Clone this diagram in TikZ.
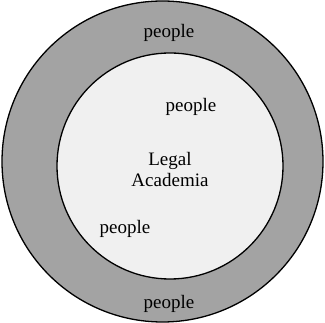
\documentclass[tikz,border=0pt]{standalone}
\usepackage{fontspec}
\setmainfont{Liberation Serif}
\begin{document}
\begin{tikzpicture}[x=1pt,y=-1pt,
  lbl/.style={font=\fontsize{19}{21}\selectfont, inner sep=0pt, align=center},
  ring/.style={draw=black, line width=1.3pt}]
\useasboundingbox (0,0) rectangle (325,323);
\fill[white] (0,0) rectangle (325,323);
\node[ring, circle, fill=black!36, minimum size=321pt, inner sep=0pt] (outer) at (162.5,161.5) {};
\node[ring, circle, fill=black!6, minimum size=226pt, inner sep=0pt] (inner) at (170,166) {};
\node[lbl] (p1) at (169,33) {people};
\node[lbl] (p2) at (191,107) {people};
\node[lbl] (la) at (170,170) {Legal\\Academia};
\node[lbl] (p3) at (125,229) {people};
\node[lbl] (p4) at (169,304) {people};
\end{tikzpicture}
\end{document}
